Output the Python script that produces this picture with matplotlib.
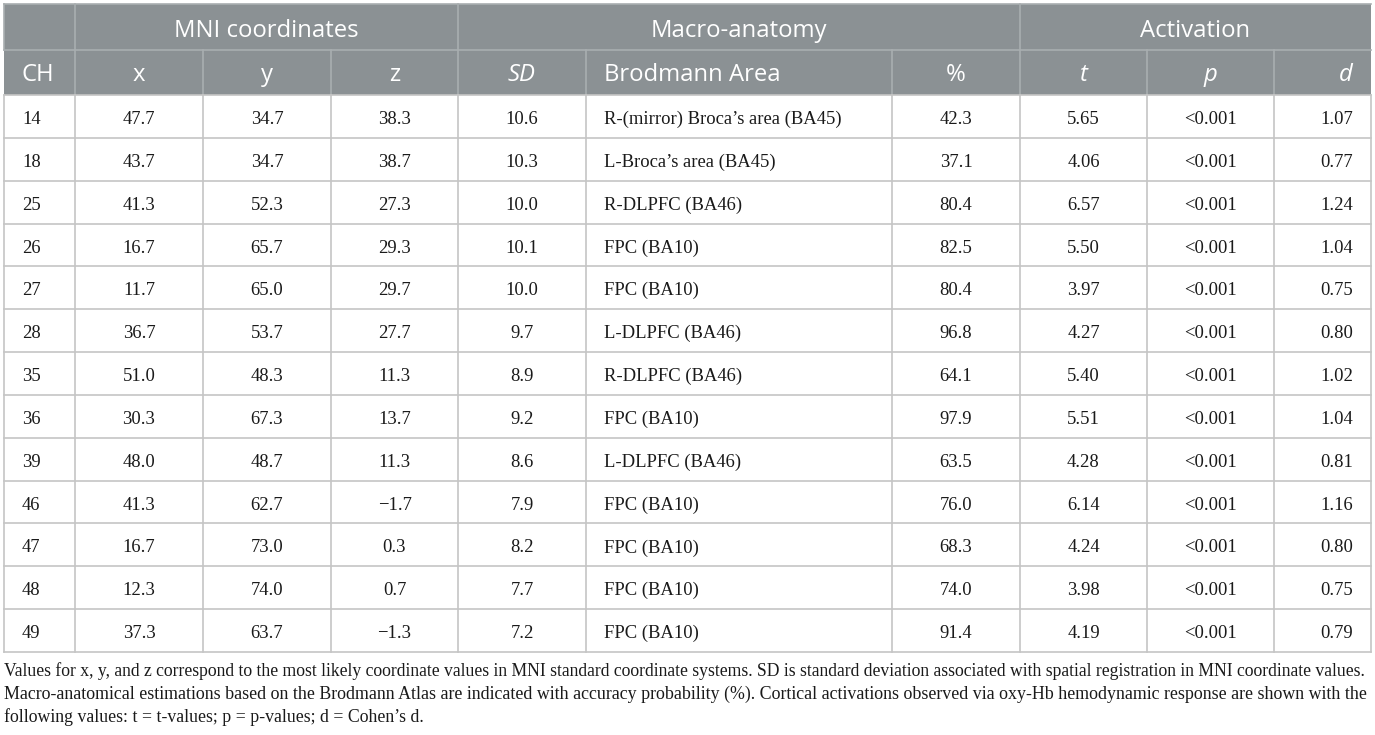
import matplotlib
matplotlib.use("Agg")
import matplotlib.pyplot as plt
from matplotlib.patches import Rectangle

# ---------------- data ----------------
ch = [14, 18, 25, 26, 27, 28, 35, 36, 39, 46, 47, 48, 49]
mni_x = [47.7, 43.7, 41.3, 16.7, 11.7, 36.7, 51.0, 30.3, 48.0, 41.3, 16.7, 12.3, 37.3]
mni_y = [34.7, 34.7, 52.3, 65.7, 65.0, 53.7, 48.3, 67.3, 48.7, 62.7, 73.0, 74.0, 63.7]
mni_z = [38.3, 38.7, 27.3, 29.3, 29.7, 27.7, 11.3, 13.7, 11.3, -1.7, 0.3, 0.7, -1.3]
sd = [10.6, 10.3, 10.0, 10.1, 10.0, 9.7, 8.9, 9.2, 8.6, 7.9, 8.2, 7.7, 7.2]
area = ["R-(mirror) Broca\u2019s area (BA45)", "L-Broca\u2019s area (BA45)", "R-DLPFC (BA46)",
        "FPC (BA10)", "FPC (BA10)", "L-DLPFC (BA46)", "R-DLPFC (BA46)", "FPC (BA10)",
        "L-DLPFC (BA46)", "FPC (BA10)", "FPC (BA10)", "FPC (BA10)", "FPC (BA10)"]
pct = [42.3, 37.1, 80.4, 82.5, 80.4, 96.8, 64.1, 97.9, 63.5, 76.0, 68.3, 74.0, 91.4]
t_val = [5.65, 4.06, 6.57, 5.50, 3.97, 4.27, 5.40, 5.51, 4.28, 6.14, 4.24, 3.98, 4.19]
p_val = ["<0.001"] * 13
d_val = [1.07, 0.77, 1.24, 1.04, 0.75, 0.80, 1.02, 1.04, 0.81, 1.16, 0.80, 0.75, 0.79]

groups = [("", 0, 1), ("MNI coordinates", 1, 4), ("Macro-anatomy", 4, 7), ("Activation", 7, 10)]
col_labels = ["CH", "x", "y", "z", "SD", "Brodmann Area", "%", "t", "p", "d"]
col_italic = [False, False, False, False, True, False, False, True, True, True]
col_align = ["left", "center", "center", "center", "center", "left", "center", "center", "center", "right"]

footnote = [
    "Values for x, y, and z correspond to the most likely coordinate values in MNI standard coordinate systems. SD is standard deviation associated with spatial registration in MNI coordinate values.",
    "Macro-anatomical estimations based on the Brodmann Atlas are indicated with accuracy probability (%). Cortical activations observed via oxy-Hb hemodynamic response are shown with the",
    "following values: t = t-values; p = p-values; d = Cohen\u2019s d.",
]

# ---------------- layout ----------------
W, H = 1375, 735
col_edges = [4, 75, 203, 331, 458, 586, 892, 1020, 1147, 1274, 1371]
hdr_top, hdr_mid, hdr_bot = 4, 50, 95
row_h = (652 - hdr_bot) / len(ch)
PAD = 18

HDR_BG = "#8b9194"
HDR_LINE = "#a9aeb0"
GRID = "#c5c5c5"
TXT = "#1a1a1a"
SANS = ["Open Sans", "DejaVu Sans"]
SERIF = ["Liberation Serif", "DejaVu Serif"]
HDR_FS = 17.2
BODY_FS = 13.4


def fmt(v, nd):
    s = f"{abs(v):.{nd}f}"
    return ("\u2212" + s) if v < 0 else s


rows = []
for i in range(len(ch)):
    rows.append([str(ch[i]), fmt(mni_x[i], 1), fmt(mni_y[i], 1), fmt(mni_z[i], 1),
                 fmt(sd[i], 1), area[i], fmt(pct[i], 1), fmt(t_val[i], 2), p_val[i],
                 fmt(d_val[i], 2)])

fig = plt.figure(figsize=(W / 100, H / 100), dpi=100)
ax = fig.add_axes([0, 0, 1, 1])
ax.set_xlim(0, W)
ax.set_ylim(H, 0)
ax.axis("off")

left, right = col_edges[0], col_edges[-1]
# header background
ax.add_patch(Rectangle((left, hdr_top), right - left, hdr_bot - hdr_top, facecolor=HDR_BG,
                       edgecolor="none", zorder=1))
# header lines
ax.plot([left, right], [hdr_top, hdr_top], color=HDR_LINE, lw=1.2, zorder=2)
ax.plot([left, right], [hdr_mid, hdr_mid], color=HDR_LINE, lw=1.2, zorder=2)
for name, a, b in groups:
    ax.plot([col_edges[a], col_edges[a]], [hdr_top, hdr_mid], color=HDR_LINE, lw=1.2, zorder=2)
for e in col_edges[1:-1]:
    ax.plot([e, e], [hdr_mid, hdr_bot], color=HDR_LINE, lw=1.2, zorder=2)


def text_x(j, align):
    if align == "left":
        return col_edges[j] + PAD
    if align == "right":
        return col_edges[j + 1] - PAD
    return (col_edges[j] + col_edges[j + 1]) / 2


for name, a, b in groups:
    if name:
        ax.text((col_edges[a] + col_edges[b]) / 2, hdr_top + 33, name, ha="center", va="baseline",
                color="white", fontsize=HDR_FS, family=SANS, zorder=3)
for j, lab in enumerate(col_labels):
    ax.text(text_x(j, col_align[j]), hdr_mid + 31, lab, ha=col_align[j], va="baseline",
            color="white", fontsize=HDR_FS, family=SANS,
            style="italic" if col_italic[j] else "normal", zorder=3)

# body grid
body_bot = hdr_bot + row_h * len(ch)
for i in range(len(ch) + 1):
    yy = hdr_bot + row_h * i
    ax.plot([left, right], [yy, yy], color=GRID, lw=1.2, zorder=2)
for e in col_edges:
    ax.plot([e, e], [hdr_bot, body_bot], color=GRID, lw=1.2, zorder=2)

for i, r in enumerate(rows):
    yb = hdr_bot + row_h * i + 29
    for j, s in enumerate(r):
        ax.text(text_x(j, col_align[j]), yb, s, ha=col_align[j], va="baseline", color=TXT,
                fontsize=BODY_FS, family=SERIF, zorder=3)

# footnote: fit the justified lines to the table width
fig.canvas.draw()
renderer = fig.canvas.get_renderer()
base_fs = 12.0
fn_y = [676, 699, 722]
targets = [1363 - left, 1367 - left, None]
sizes = []
objs = []
for k, line in enumerate(footnote):
    tx = ax.text(left, fn_y[k], line, ha="left", va="baseline", color=TXT, fontsize=base_fs,
                 family=SERIF, zorder=3)
    objs.append(tx)
for k in range(2):
    w = objs[k].get_window_extent(renderer).width
    fs = base_fs * targets[k] / w
    objs[k].set_fontsize(fs)
    sizes.append(fs)
objs[2].set_fontsize(sum(sizes) / len(sizes))

fig.savefig("out.png", dpi=100)
